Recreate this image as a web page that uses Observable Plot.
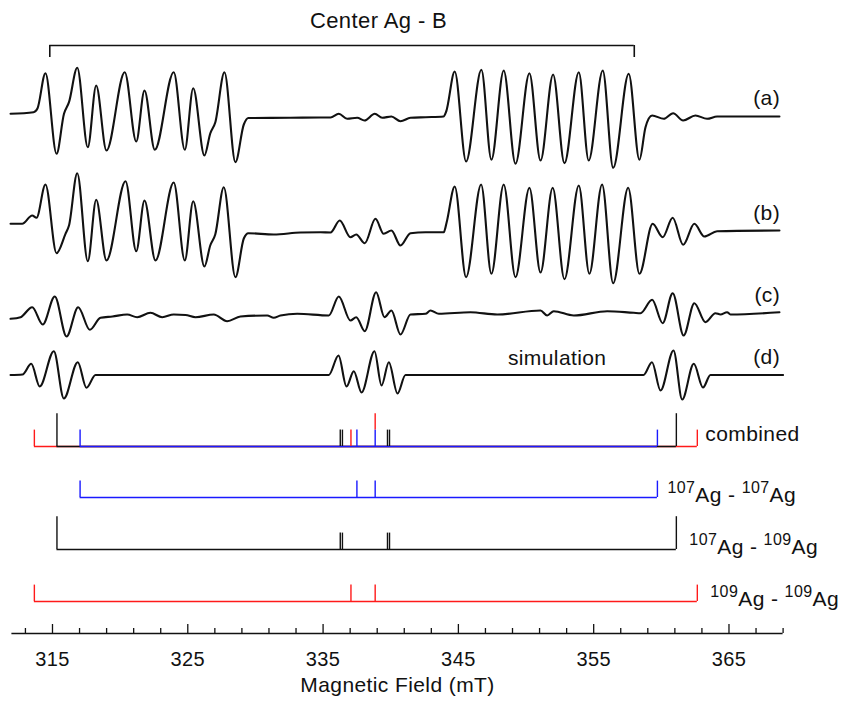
<!DOCTYPE html>
<html>
<head>
<meta charset="utf-8">
<script src="https://cdn.jsdelivr.net/npm/d3@7"></script>
<script src="https://cdn.jsdelivr.net/npm/@observablehq/plot@0.6"></script>
<style>
  html, body { margin: 0; padding: 0; background: #fff; }
  #chart svg { display: block; }
</style>
</head>
<body>
<div id="chart"></div>
<script>
// ---------------- DATA ----------------
// EPR traces: magnetic field (mT) and signal amplitude (arbitrary units, + = up)
const fieldA = [311.90,313.60,313.89,314.48,315.30,315.85,316.22,316.83,317.61,318.23,318.99,320.34,321.19,321.80,322.56,323.96,324.78,325.40,326.23,326.66,327.03,327.71,328.52,329.14,329.48,332.59,334.81,335.55,336.16,336.78,337.52,338.06,338.82,339.37,340.05,340.72,341.46,342.57,343.90,344.10,344.73,345.57,346.70,347.44,348.35,349.22,350.25,351.07,352.00,352.84,353.90,354.63,355.67,356.44,357.59,358.38,358.83,359.32,360.18,360.87,361.61,362.52,363.38,364.12,368.73];
const ampA   = [2.7,4.3,8,43.3,-37.3,2.7,14.3,48.7,-30.7,31,-34,44.3,-25,26,-33.3,44.3,-33.3,28.3,-39,-17,-6,44.3,-45.7,-8,-1.5,-1.3,-1,-1,2.7,-2.3,-1.3,-4,2.7,-1.3,0,-4.7,-1.3,-0.7,0,5,45,-45,46.7,-43.3,46,-47.3,43.3,-44,42,-46.7,44.3,-44,46,-51.3,42.7,-43.3,-10.7,1,-2.3,3.3,-4,1,-2.3,0,0];

const fieldB = [311.90,312.76,313.50,313.82,314.48,315.30,315.96,316.22,316.83,317.61,318.23,318.99,320.40,321.19,321.80,322.61,323.96,324.78,325.40,326.23,326.66,327.03,327.66,328.52,329.14,329.48,331.35,333.33,334.81,335.55,336.23,337.02,337.45,338.08,338.87,339.48,340.05,340.72,341.46,342.57,343.92,344.13,344.73,345.57,346.68,347.44,348.35,349.22,350.25,351.07,351.97,352.84,353.90,354.68,355.62,356.44,357.55,358.38,359.36,360.10,360.84,361.61,362.44,363.18,364.12,368.73];
const ampB   = [7.7,7.7,16,13.7,47,-21.7,-2.3,6,58.3,-29.7,31.7,-29,50.3,-19.7,31,-29,49,-29,30.3,-35,-14,-3,44.3,-45.7,-7,-1.7,-3,-1,-0.7,-1,11,-5.7,-3,-11.7,12.7,-2.3,1,-14,-1.7,-0.7,-0.7,9,45,-45.7,47,-42.3,47,-45.7,43.7,-41,43.7,-47.7,46,-42.3,47,-51.7,43.7,-42.3,7.7,-5.7,13.7,-13.3,7.7,-5,0.3,1];

const fieldC = [311.90,312.64,313.50,314.28,315.17,316.04,316.90,317.76,318.55,319.43,320.52,321.26,322.24,323.11,323.96,324.83,325.57,326.92,327.91,328.89,330.87,331.35,331.85,333.09,335.42,336.16,337.02,337.45,338.08,338.92,339.54,340.05,340.72,341.46,342.57,342.94,343.55,345.89,347.87,351.07,351.56,352.05,353.53,356.00,357.96,358.46,359.32,360.10,360.84,361.65,362.44,363.26,364.00,364.37,364.86,365.11,368.73];
const ampC   = [-5.3,-3.7,6.3,-11,17,-23,6.3,-16.3,-4.3,-3,-1,-3.7,0.7,-3.7,-1,-1.5,-3.7,-1,-7.7,-3,-2,-4.3,-2,-0.3,-2,17,-7,-3.7,-17.7,21.3,-3.7,3,-21,-1,-0.3,3,-0.3,1.3,-1,3,-2,2.3,-2,2.3,0.7,0.3,13.7,-9.7,20.3,-22,10.3,-8.7,0.3,-1,1.3,-1,1.3];

const fieldD = [311.90,312.78,313.43,314.06,315.10,315.84,316.87,317.51,318.18,335.42,336.14,336.73,337.27,337.84,338.80,339.32,339.86,340.50,341.09,358.68,359.31,359.94,360.90,361.54,362.40,363.08,363.63,369.00];
const ampD   = [0,0.5,11.2,-11.5,23.8,-23.5,12.8,-12.8,0,0,19.5,-11.5,3.8,-17.5,23.8,-10.5,12.8,-18.5,0,0,12.8,-15.5,24.5,-24.5,11.2,-12.5,0,0];

const traceLabels = ["(a)", "(b)", "(c)", "(d)"];
const simulationLabel = "simulation";

// Stick diagrams: line positions (mT) and relative intensities
const sticks107_107 = [317.04, 337.50, 338.85, 359.71];
const int107_107    = [1, 1, 1, 1];
const sticks107_109 = [315.33, 336.27, 336.43, 339.76, 339.91, 361.11];
const int107_109    = [2, 1, 1, 1, 1, 2];
const sticks109_109 = [313.66, 337.06, 338.85, 362.66];
const int109_109    = [1, 1, 1, 1];
const isotopeLabels = ["107Ag - 107Ag", "107Ag - 109Ag", "109Ag - 109Ag"];
const combinedLabel = "combined";

// Center Ag-B: outermost lines bracketed at the top
const centerLines = [314.8, 358.0];
const titleText = "Center Ag - B";

// Axis
const majorTicks = [315, 325, 335, 345, 355, 365];
const allTicks = d3.range(313, 370, 2);
const xLabel = "Magnetic Field (mT)";

// ---------------- LAYOUT / STYLE ----------------
const FONT = "'Liberation Sans', Arial, Helvetica, sans-serif";
const RED = "#ff1a1a", BLUE = "#1a1aff", BLACK = "#111";
const traceBase = {"(a)": 517, "(b)": 402, "(c)": 320, "(d)": 258.5};
const rowBase = {"combined": 187, "107Ag - 107Ag": 136, "107Ag - 109Ag": 84, "109Ag - 109Ag": 32};
const stickUnit = 16.4;
const bracketY = 588, bracketDrop = 12;
const titleX = 339.1, titleY = 605.5;
const simX = 352.3;
const LABEL = 21;

const traces = [
  {label: traceLabels[0], field: fieldA, amp: ampA},
  {label: traceLabels[1], field: fieldB, amp: ampB},
  {label: traceLabels[2], field: fieldC, amp: ampC},
  {label: traceLabels[3], field: fieldD, amp: ampD}
];
const traceRows = traces.flatMap(t => t.field.map((f, i) => ({label: t.label, field: f, v: traceBase[t.label] + t.amp[i]})));

const isos = [
  {name: isotopeLabels[0], color: BLUE,  pos: sticks107_107, int: int107_107, dx: 10},
  {name: isotopeLabels[1], color: BLACK, pos: sticks107_109, int: int107_109, dx: 13},
  {name: isotopeLabels[2], color: RED,   pos: sticks109_109, int: int109_109, dx: 13}
];

// combined: stack coincident lines (107-107 at bottom)
const acc = new Map();
const combined = [];
for (const iso of isos) {
  iso.pos.forEach((p, i) => {
    const b = acc.get(p) || 0;
    combined.push({name: iso.name, color: iso.color, x: p, y1: b, y2: b + iso.int[i]});
    acc.set(p, b + iso.int[i]);
  });
}

const marks = [];

// traces
marks.push(Plot.line(traceRows, {x: "field", y: "v", z: "label", curve: "monotone-x", stroke: BLACK, strokeWidth: 2.1}));
marks.push(Plot.text(traces, {frameAnchor: "right", y: d => traceBase[d.label] + 18, text: "label", textAnchor: "end", dx: -3, fontSize: LABEL}));
marks.push(Plot.text([simulationLabel], {x: simX, y: traceBase["(d)"] + 17, text: d => d, fontSize: LABEL}));

// combined row: baselines (widest first), stacked sticks
for (const iso of [isos[2], isos[1], isos[0]]) {
  marks.push(Plot.ruleY([iso], {x1: d => d3.min(d.pos), x2: d => d3.max(d.pos), y: rowBase.combined, stroke: iso.color, strokeWidth: 1.5}));
}
for (const iso of isos) {
  marks.push(Plot.ruleX(combined.filter(d => d.name === iso.name), {x: "x", y1: d => rowBase.combined + d.y1 * stickUnit, y2: d => rowBase.combined + d.y2 * stickUnit, stroke: iso.color, strokeWidth: 1.4}));
}
marks.push(Plot.text([combinedLabel], {x: d3.max(isos, d => d3.max(d.pos)), y: rowBase.combined + 12, dx: 8, text: d => d, textAnchor: "start", fontSize: LABEL}));

// individual rows
for (const iso of isos) {
  const rb = rowBase[iso.name];
  marks.push(Plot.ruleY([iso], {x1: d => d3.min(d.pos), x2: d => d3.max(d.pos), y: rb, stroke: iso.color, strokeWidth: 1.5}));
  marks.push(Plot.ruleX(iso.pos.map((p, i) => ({x: p, n: iso.int[i]})), {x: "x", y1: rb, y2: d => rb + d.n * stickUnit, stroke: iso.color, strokeWidth: 1.4}));
  marks.push(Plot.text([iso], {x: d => d3.max(d.pos), y: rb - 4.5, dx: iso.dx, text: "name", textAnchor: "start", lineAnchor: "bottom", fontSize: LABEL}));
}

// Center Ag-B bracket and title
marks.push(Plot.ruleY([centerLines], {x1: d => d[0], x2: d => d[1], y: bracketY, stroke: BLACK, strokeWidth: 1.6}));
marks.push(Plot.ruleX(centerLines, {x: d => d, y1: bracketY - bracketDrop, y2: bracketY, stroke: BLACK, strokeWidth: 1.6}));
marks.push(Plot.text([titleText], {x: titleX, y: titleY, text: d => d, lineAnchor: "bottom", fontSize: 22}));

// x axis
marks.push(Plot.ruleY([0], {stroke: BLACK, strokeWidth: 1.6}));
marks.push(Plot.ruleX(allTicks, {x: d => d, y1: 0, y2: d => majorTicks.includes(d) ? 9 : 5, stroke: BLACK, strokeWidth: 1.3}));
marks.push(Plot.axisX(majorTicks, {tickSize: 0, tickPadding: 18, fontSize: 20, label: null, tickFormat: d => String(d)}));
marks.push(Plot.text([xLabel], {frameAnchor: "bottom", dy: 58, text: d => d, fontSize: LABEL}));

const chart = Plot.plot({
  width: 843,
  height: 705,
  marginTop: 0,
  marginBottom: 72,
  marginLeft: 11.4,
  marginRight: 60.4,
  x: {domain: [312, 369], axis: null},
  y: {domain: [0, 633], axis: null},
  style: {fontFamily: FONT, background: "#fff", color: "#111", overflow: "visible", letterSpacing: "0.4px"},
  marks
});

// superscript isotope numbers as real tspans
d3.select(chart).selectAll("text").each(function() {
  const t = this.textContent;
  const m = t.match(/^(\d+)(Ag) - (\d+)(Ag)$/);
  if (!m) return;
  const sel = d3.select(this);
  sel.text(null);
  sel.append("tspan").attr("font-size", 16).attr("dy", "-9").text(m[1]);
  sel.append("tspan").attr("font-size", LABEL).attr("dy", "9").text(m[2] + " - ");
  sel.append("tspan").attr("font-size", 16).attr("dy", "-9").text(m[3]);
  sel.append("tspan").attr("font-size", LABEL).attr("dy", "9").text(m[4]);
});

document.getElementById("chart").appendChild(chart);
</script>
</body>
</html>
